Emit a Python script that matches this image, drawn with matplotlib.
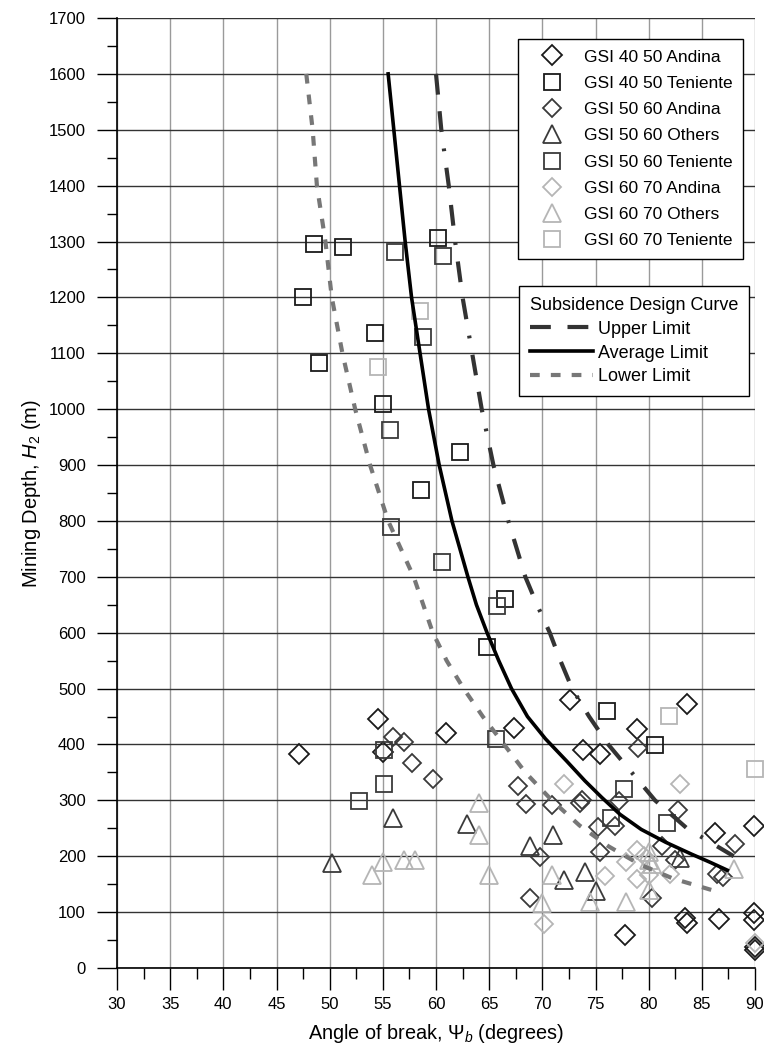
import matplotlib
matplotlib.use('Agg')
import matplotlib.pyplot as plt
from matplotlib.ticker import MultipleLocator

plt.rcParams['font.family'] = ['Liberation Sans', 'DejaVu Sans']
plt.rcParams['mathtext.fontset'] = 'custom'
plt.rcParams['mathtext.rm'] = 'Liberation Sans'
plt.rcParams['mathtext.it'] = 'Liberation Sans:italic'
plt.rcParams['lines.scale_dashes'] = False

# --- field data (angle of break in degrees, mining depth in m) ---
andina_4050_x = [47.1, 54.5, 55.0, 60.9, 67.3, 72.6, 73.8, 75.4, 78.9, 83.6,
                 77.8, 83.4, 83.6, 86.6, 86.2, 89.9, 89.9, 89.9, 90.0, 90.0]
andina_4050_y = [383, 446, 387, 420, 430, 480, 390, 383, 427, 472,
                 59, 89, 80, 88, 241, 255, 98, 86, 38, 33]

teniente_4050_x = [48.5, 51.3, 47.5, 49.0, 54.3, 60.2, 55.0, 62.3, 58.6, 66.5, 64.8, 76.1, 80.6]
teniente_4050_y = [1295, 1290, 1200, 1082, 1136, 1307, 1010, 924, 856, 660, 575, 460, 399]

andina_5060_x = [56.0, 57.0, 57.7, 59.7, 67.7, 68.5, 69.8, 68.8, 70.9, 73.7, 73.5,
                 75.2, 76.8, 77.2, 75.4, 79.0, 82.8, 81.3, 82.5, 80.3, 88.1, 86.4, 87.0]
andina_5060_y = [414, 405, 367, 339, 326, 293, 199, 125, 292, 300, 296,
                 253, 255, 298, 208, 393, 283, 219, 193, 126, 222, 169, 162]

others_5060_x = [50.2, 56.0, 62.9, 68.8, 71.0, 72.0, 74.0, 75.0, 82.9]
others_5060_y = [188, 268, 257, 218, 238, 157, 172, 137, 196]

teniente_5060_x = [56.1, 60.7, 58.8, 55.7, 55.8, 60.6, 65.7, 65.6, 55.1, 55.1, 52.8, 77.7, 76.5, 81.7]
teniente_5060_y = [1281, 1274, 1130, 962, 790, 727, 647, 410, 390, 330, 299, 320, 269, 260]

andina_6070_x = [72.0, 82.9, 78.9, 77.9, 70.2, 75.9, 78.9, 80.0, 82.0, 79.6, 90.0]
andina_6070_y = [329, 329, 212, 190, 79, 165, 160, 166, 169, 200, 44]

others_6070_x = [54.0, 55.0, 57.0, 58.0, 64.0, 64.0, 65.0, 70.0, 70.9, 74.5, 77.9,
                 80.0, 80.0, 80.3, 80.0, 88.0]
others_6070_y = [167, 190, 193, 193, 296, 238, 167, 117, 166, 118, 118,
                 208, 193, 187, 140, 178]

teniente_6070_x = [58.5, 54.5, 81.9, 90.0]
teniente_6070_y = [1176, 1076, 451, 357]

# --- subsidence design curves ---
upper_x = [60.0, 60.5, 61.2, 61.8, 62.5, 63.4, 64.3, 65.4, 66.8, 68.4, 69.5, 70.7,
           71.7, 72.8, 74.4, 76.2, 78.4, 80.6, 83.6, 88.0]
upper_y = [1600, 1500, 1400, 1300, 1200, 1100, 1000, 900, 800, 700, 650, 600,
           550, 500, 450, 400, 350, 300, 250, 200]

average_x = [55.5, 56.3, 57.1, 57.7, 58.5, 59.3, 60.3, 61.5, 63.0, 63.8, 64.8, 65.9,
             67.1, 68.6, 70.3, 72.3, 74.0, 75.6, 77.3, 79.3, 81.6, 84.0, 85.8, 87.4]
average_y = [1600, 1450, 1300, 1200, 1100, 1000, 900, 800, 700, 650, 600, 550,
             500, 450, 410, 370, 335, 305, 275, 248, 225, 204, 189, 175]

lower_x = [47.8, 48.4, 48.8, 49.6, 50.2, 51.2, 52.4, 53.8, 55.5, 57.9, 59.7, 61.0,
           62.6, 64.4, 66.2, 68.4, 70.9, 73.5, 76.2, 79.2, 82.3, 86.2]
lower_y = [1600, 1500, 1400, 1300, 1200, 1100, 1000, 900, 800, 700, 600, 550,
           500, 450, 405, 350, 300, 255, 218, 185, 160, 138]

c_4050 = '#1a1a1a'
c_5060 = '#3a3a3a'
c_6070 = '#b5b5b5'

fig = plt.figure(figsize=(7.64, 10.54), dpi=100)
ax = fig.add_axes([117 / 764, 1 - 968 / 1054, 638 / 764, 950 / 1054])

series = [
    (andina_4050_x, andina_4050_y, 'D', 10.5, c_4050, 'GSI 40 50 Andina'),
    (teniente_4050_x, teniente_4050_y, 's', 12, c_4050, 'GSI 40 50 Teniente'),
    (andina_5060_x, andina_5060_y, 'D', 9.5, c_5060, 'GSI 50 60 Andina'),
    (others_5060_x, others_5060_y, '^', 13.5, c_5060, 'GSI 50 60 Others'),
    (teniente_5060_x, teniente_5060_y, 's', 12, c_5060, 'GSI 50 60 Teniente'),
    (andina_6070_x, andina_6070_y, 'D', 9.5, c_6070, 'GSI 60 70 Andina'),
    (others_6070_x, others_6070_y, '^', 13.5, c_6070, 'GSI 60 70 Others'),
    (teniente_6070_x, teniente_6070_y, 's', 12, c_6070, 'GSI 60 70 Teniente'),
]
marker_handles = []
for xs, ys, mk, ms, col, lab in series:
    h, = ax.plot(xs, ys, ls='none', marker=mk, ms=ms, mfc='none', mec=col,
                 mew=1.3, label=lab, clip_on=False, zorder=3)
    marker_handles.append(h)

up, = ax.plot(upper_x, upper_y, color='#333333', lw=3, dashes=(15, 12, 15, 12, 2, 12),
              dash_capstyle='butt', zorder=4, label='Upper Limit')
avg, = ax.plot(average_x, average_y, color='black', lw=2.6, zorder=4, label='Average Limit')
low, = ax.plot(lower_x, lower_y, color='#777777', lw=3, dashes=(7, 8),
               dash_capstyle='butt', zorder=4, label='Lower Limit')

ax.set_xlim(30, 90)
ax.set_ylim(0, 1700)
ax.xaxis.set_major_locator(MultipleLocator(5))
ax.xaxis.set_minor_locator(MultipleLocator(2.5))
ax.yaxis.set_major_locator(MultipleLocator(100))
ax.yaxis.set_minor_locator(MultipleLocator(50))

ax.grid(True, which='major', axis='x', color='#9a9a9a', lw=1.0)
ax.grid(True, which='major', axis='y', color='#333333', lw=1.0)
ax.set_axisbelow(True)

for s in ['top', 'right']:
    ax.spines[s].set_visible(False)
for s in ['left', 'bottom']:
    ax.spines[s].set_linewidth(1.2)

ax.tick_params(axis='x', which='major', direction='out', length=16, width=1, labelsize=12, pad=5)
ax.tick_params(axis='x', which='minor', direction='out', length=8, width=1)
ax.tick_params(axis='y', which='major', direction='out', length=14.5, width=1, labelsize=12, pad=8)
ax.tick_params(axis='y', which='minor', direction='out', length=7.5, width=1)

ax.set_xlabel(r'Angle of break, $\Psi_b$ (degrees)', fontsize=14.3, labelpad=7)
ax.set_ylabel(r'Mining Depth, $H_2$ (m)', fontsize=14.5, labelpad=4)

leg1 = ax.legend(handles=marker_handles, loc='upper right',
                 bbox_to_anchor=((743 - 117) / 638, (968 - 39) / 950),
                 fontsize=12.5, frameon=True, fancybox=False, framealpha=1,
                 edgecolor='black', handlelength=2.7, handletextpad=0.5,
                 labelspacing=0.64, borderpad=0.6, borderaxespad=0)
leg1.get_frame().set_linewidth(1.0)
ax.add_artist(leg1)

leg2 = ax.legend(handles=[up, avg, low], loc='upper right',
                 bbox_to_anchor=((749 - 117) / 638, (968 - 286) / 950),
                 title='Subsidence Design Curve', title_fontsize=13, alignment='left',
                 fontsize=13, frameon=True, fancybox=False, framealpha=1,
                 edgecolor='black', handlelength=3.5, handletextpad=0.3,
                 labelspacing=0.38, borderpad=0.6, borderaxespad=0)
leg2.get_frame().set_linewidth(1.0)

fig.savefig('out.png', dpi=100)
